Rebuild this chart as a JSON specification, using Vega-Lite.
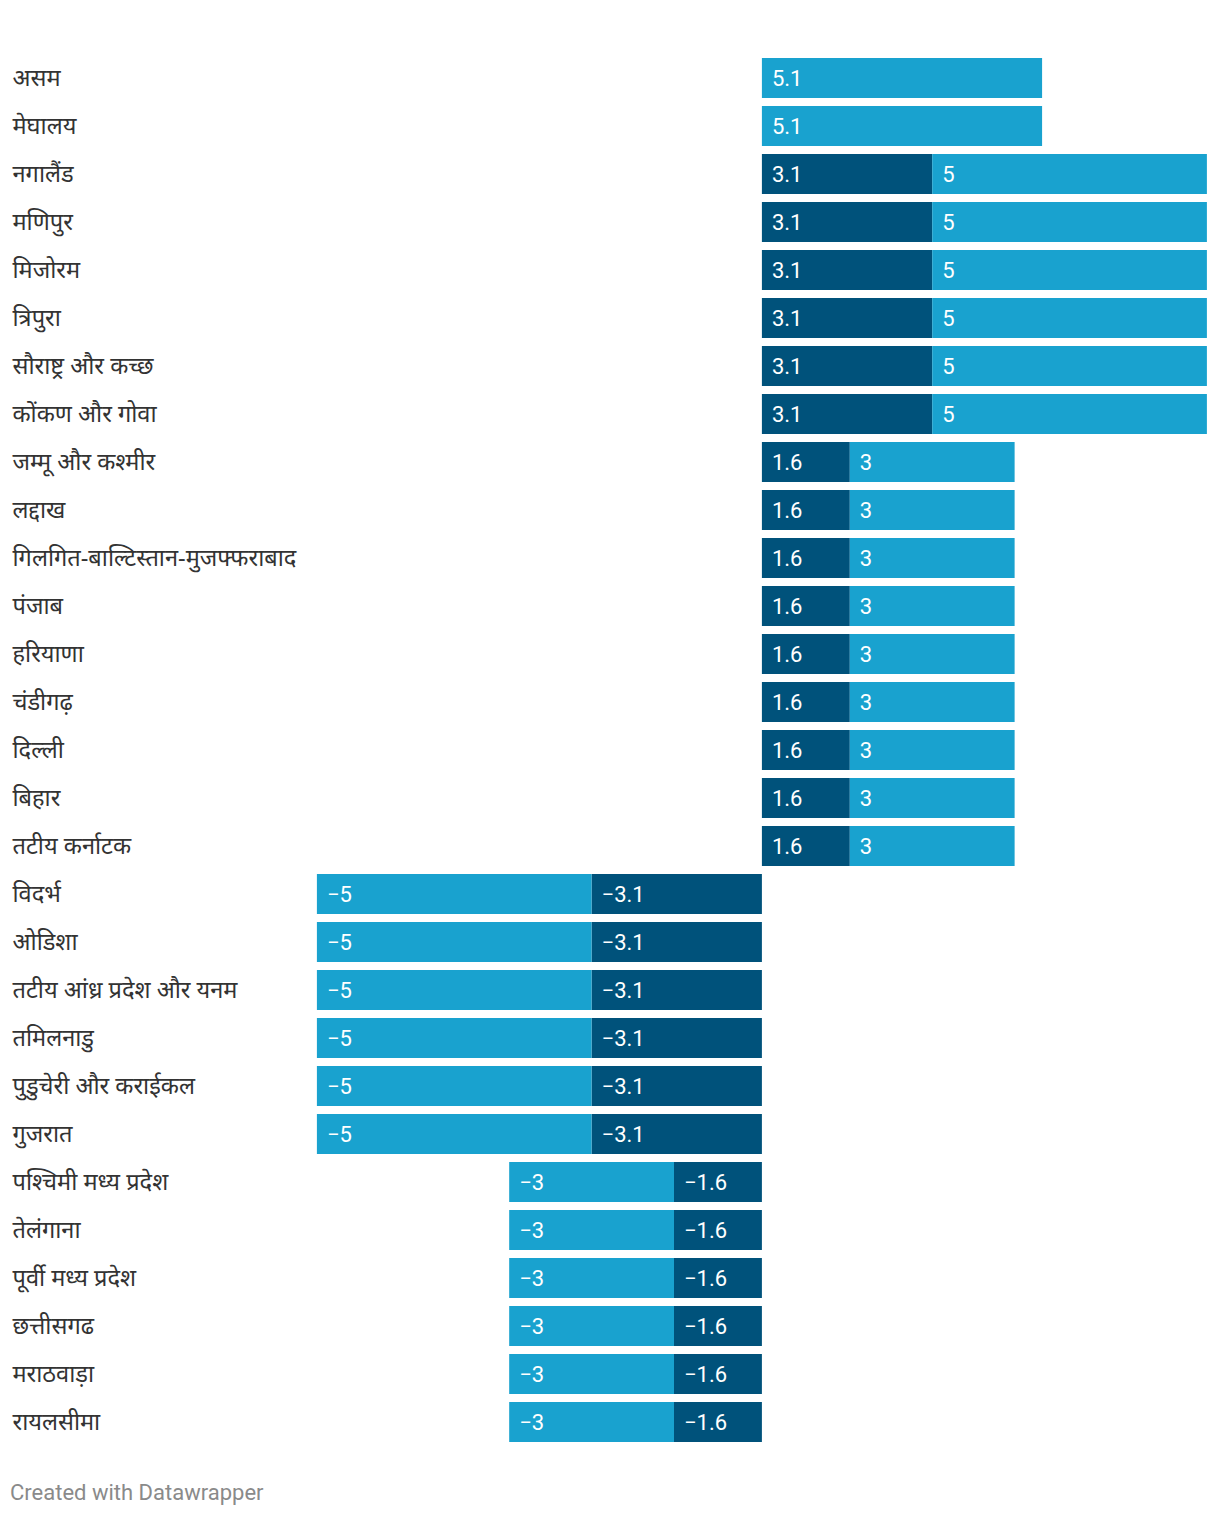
{
  "$schema": "https://vega.github.io/schema/vega-lite/v6.json",
  "autosize": {"type": "none"},
  "padding": {"left": 318, "top": 54, "right": 12, "bottom": 72},
  "width": 890,
  "height": 1392,
  "background": "white",
  "config": {"view": {"stroke": null}, "font": "Roboto, Noto Sans"},
  "title": {
    "text": "Created with Datawrapper",
    "orient": "bottom",
    "anchor": "start",
    "frame": "bounds",
    "offset": 37,
    "dx": -2,
    "fontSize": 22,
    "fontWeight": "normal",
    "color": "#8a8a8a",
    "font": "Roboto"
  },
  "data": {
    "values": [
      {"region": "असम", "series": "light", "value": 5.1},
      {"region": "मेघालय", "series": "light", "value": 5.1},
      {"region": "नगालैंड", "series": "dark", "value": 3.1},
      {"region": "नगालैंड", "series": "light", "value": 5},
      {"region": "मणिपुर", "series": "dark", "value": 3.1},
      {"region": "मणिपुर", "series": "light", "value": 5},
      {"region": "मिजोरम", "series": "dark", "value": 3.1},
      {"region": "मिजोरम", "series": "light", "value": 5},
      {"region": "त्रिपुरा", "series": "dark", "value": 3.1},
      {"region": "त्रिपुरा", "series": "light", "value": 5},
      {"region": "सौराष्ट्र और कच्छ", "series": "dark", "value": 3.1},
      {"region": "सौराष्ट्र और कच्छ", "series": "light", "value": 5},
      {"region": "कोंकण और गोवा", "series": "dark", "value": 3.1},
      {"region": "कोंकण और गोवा", "series": "light", "value": 5},
      {"region": "जम्मू और कश्मीर", "series": "dark", "value": 1.6},
      {"region": "जम्मू और कश्मीर", "series": "light", "value": 3},
      {"region": "लद्दाख", "series": "dark", "value": 1.6},
      {"region": "लद्दाख", "series": "light", "value": 3},
      {"region": "गिलगित-बाल्टिस्तान-मुजफ्फराबाद", "series": "dark", "value": 1.6},
      {"region": "गिलगित-बाल्टिस्तान-मुजफ्फराबाद", "series": "light", "value": 3},
      {"region": "पंजाब", "series": "dark", "value": 1.6},
      {"region": "पंजाब", "series": "light", "value": 3},
      {"region": "हरियाणा", "series": "dark", "value": 1.6},
      {"region": "हरियाणा", "series": "light", "value": 3},
      {"region": "चंडीगढ़", "series": "dark", "value": 1.6},
      {"region": "चंडीगढ़", "series": "light", "value": 3},
      {"region": "दिल्ली", "series": "dark", "value": 1.6},
      {"region": "दिल्ली", "series": "light", "value": 3},
      {"region": "बिहार", "series": "dark", "value": 1.6},
      {"region": "बिहार", "series": "light", "value": 3},
      {"region": "तटीय कर्नाटक", "series": "dark", "value": 1.6},
      {"region": "तटीय कर्नाटक", "series": "light", "value": 3},
      {"region": "विदर्भ", "series": "dark", "value": -3.1},
      {"region": "विदर्भ", "series": "light", "value": -5},
      {"region": "ओडिशा", "series": "dark", "value": -3.1},
      {"region": "ओडिशा", "series": "light", "value": -5},
      {"region": "तटीय आंध्र प्रदेश और यनम", "series": "dark", "value": -3.1},
      {"region": "तटीय आंध्र प्रदेश और यनम", "series": "light", "value": -5},
      {"region": "तमिलनाडु", "series": "dark", "value": -3.1},
      {"region": "तमिलनाडु", "series": "light", "value": -5},
      {"region": "पुडुचेरी और कराईकल", "series": "dark", "value": -3.1},
      {"region": "पुडुचेरी और कराईकल", "series": "light", "value": -5},
      {"region": "गुजरात", "series": "dark", "value": -3.1},
      {"region": "गुजरात", "series": "light", "value": -5},
      {"region": "पश्चिमी मध्य प्रदेश", "series": "dark", "value": -1.6},
      {"region": "पश्चिमी मध्य प्रदेश", "series": "light", "value": -3},
      {"region": "तेलंगाना", "series": "dark", "value": -1.6},
      {"region": "तेलंगाना", "series": "light", "value": -3},
      {"region": "पूर्वी मध्य प्रदेश", "series": "dark", "value": -1.6},
      {"region": "पूर्वी मध्य प्रदेश", "series": "light", "value": -3},
      {"region": "छत्तीसगढ", "series": "dark", "value": -1.6},
      {"region": "छत्तीसगढ", "series": "light", "value": -3},
      {"region": "मराठवाड़ा", "series": "dark", "value": -1.6},
      {"region": "मराठवाड़ा", "series": "light", "value": -3},
      {"region": "रायलसीमा", "series": "dark", "value": -1.6},
      {"region": "रायलसीमा", "series": "light", "value": -3}
    ]
  },
  "transform": [
    {"stack": "value", "groupby": ["region"], "sort": [{"field": "series", "order": "ascending"}], "as": ["v0", "v1"]},
    {"calculate": "min(datum.v0, datum.v1)", "as": "vmin"}
  ],
  "encoding": {
    "y": {
      "field": "region",
      "type": "nominal",
      "sort": null,
      "scale": {"paddingInner": 0.1667, "paddingOuter": 0.0833},
      "axis": {
        "title": null,
        "domain": false,
        "ticks": false,
        "labelAlign": "left",
        "labelPadding": 306,
        "labelLimit": 500,
        "labelFontSize": 23.6,
        "labelOffset": 1,
        "labelColor": "#333333",
        "labelFont": "Noto Sans, Roboto"
      }
    }
  },
  "layer": [
    {
      "mark": {"type": "bar"},
      "encoding": {
        "x": {"field": "v0", "type": "quantitative", "scale": {"domain": [-8.08, 8.12], "nice": false, "zero": false}, "axis": null},
        "x2": {"field": "v1"},
        "color": {
          "field": "series",
          "type": "nominal",
          "scale": {"domain": ["dark", "light"], "range": ["#00527b", "#19a2cf"]},
          "legend": null
        }
      }
    },
    {
      "mark": {"type": "text", "align": "left", "baseline": "middle", "dx": 10, "dy": 1, "fontSize": 22, "color": "white", "font": "Roboto"},
      "encoding": {
        "x": {"field": "vmin", "type": "quantitative"},
        "text": {"field": "value", "type": "quantitative", "format": "~g"}
      }
    }
  ]
}
